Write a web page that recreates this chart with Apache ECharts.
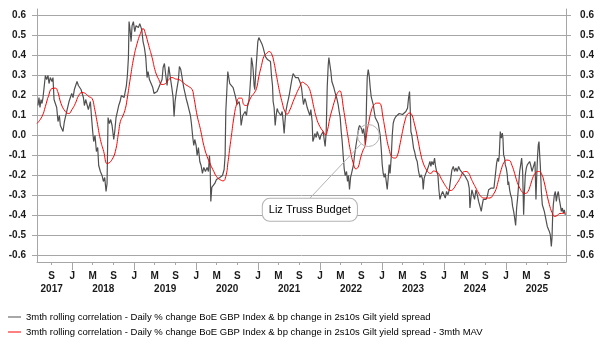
<!DOCTYPE html>
<html>
<head>
<meta charset="utf-8">
<script src="https://cdn.jsdelivr.net/npm/echarts@6/dist/echarts.min.js"></script>
<style>
  html, body { margin: 0; padding: 0; background: #fff; }
  #chart { width: 603px; height: 352px; }
</style>
</head>
<body>
<div id="chart"></div>
<script>
// x values are decimal years
const corrName = '3mth rolling correlation - Daily % change BoE GBP Index & bp change in 2s10s Gilt yield spread';
const mavName = corrName + ' - 3mth MAV';

// 3mth rolling correlation
const corr3m = [
  [2017.446,0.15],[2017.462,0.19],[2017.478,0.14],[2017.495,0.18],[2017.511,0.16],[2017.527,0.19],[2017.548,0.25],[2017.565,0.30],
  [2017.586,0.28],[2017.608,0.30],[2017.624,0.26],[2017.645,0.29],[2017.672,0.27],[2017.688,0.29],[2017.705,0.18],[2017.726,0.16],
  [2017.748,0.14],[2017.769,0.07],[2017.791,0.10],[2017.807,0.05],[2017.828,0.06],[2017.850,0.02],[2017.872,0.07],[2017.893,0.08],
  [2017.909,0.12],[2017.925,0.11],[2017.947,0.17],[2017.969,0.19],[2017.990,0.21],[2018.012,0.19],[2018.033,0.23],[2018.055,0.24],
  [2018.076,0.27],[2018.098,0.25],[2018.119,0.24],[2018.141,0.23],[2018.162,0.22],[2018.179,0.19],[2018.195,0.15],[2018.216,0.18],
  [2018.238,0.17],[2018.259,0.13],[2018.275,0.12],[2018.292,0.17],[2018.308,0.10],[2018.329,0.02],[2018.345,-0.03],[2018.367,0.00],
  [2018.389,-0.08],[2018.410,-0.06],[2018.426,-0.15],[2018.453,-0.18],[2018.480,-0.20],[2018.502,-0.23],[2018.523,-0.21],[2018.545,-0.28],
  [2018.561,-0.24],[2018.577,0.09],[2018.599,0.06],[2018.620,0.08],[2018.642,0.05],[2018.669,-0.02],[2018.685,0.02],[2018.706,0.09],
  [2018.728,0.10],[2018.749,0.15],[2018.771,0.17],[2018.792,0.20],[2018.814,0.21],[2018.836,0.19],[2018.857,0.19],[2018.873,0.25],
  [2018.889,0.30],[2018.906,0.39],[2018.916,0.57],[2018.932,0.53],[2018.949,0.47],[2018.965,0.55],[2018.986,0.57],[2019.008,0.52],
  [2019.029,0.55],[2019.046,0.56],[2019.067,0.54],[2019.089,0.56],[2019.105,0.57],[2019.121,0.53],[2019.142,0.47],[2019.164,0.44],
  [2019.186,0.39],[2019.207,0.29],[2019.223,0.32],[2019.245,0.28],[2019.272,0.26],[2019.299,0.24],[2019.320,0.21],[2019.342,0.20],
  [2019.369,0.22],[2019.396,0.24],[2019.422,0.23],[2019.449,0.28],[2019.466,0.34],[2019.487,0.36],[2019.509,0.30],[2019.530,0.25],
  [2019.557,0.345],[2019.584,0.34],[2019.606,0.24],[2019.627,0.19],[2019.643,0.095],[2019.659,0.17],[2019.681,0.22],[2019.697,0.21],
  [2019.713,0.28],[2019.729,0.345],[2019.751,0.33],[2019.778,0.28],[2019.799,0.24],[2019.821,0.21],[2019.842,0.18],[2019.864,0.155],
  [2019.886,0.145],[2019.907,0.10],[2019.923,0.06],[2019.945,-0.01],[2019.961,-0.05],[2019.977,-0.02],[2019.999,-0.05],[2020.015,-0.10],
  [2020.036,-0.06],[2020.058,-0.13],[2020.079,-0.15],[2020.101,-0.19],[2020.123,-0.16],[2020.149,-0.18],[2020.176,-0.16],[2020.198,-0.18],
  [2020.214,-0.10],[2020.225,-0.15],[2020.236,-0.33],[2020.252,-0.26],[2020.273,-0.26],[2020.300,-0.24],[2020.327,-0.22],[2020.354,-0.23],
  [2020.381,-0.21],[2020.408,-0.22],[2020.424,-0.20],[2020.451,-0.17],[2020.467,-0.10],[2020.478,0.12],[2020.494,0.22],[2020.510,0.32],
  [2020.526,0.29],[2020.542,0.26],[2020.569,0.27],[2020.596,0.24],[2020.612,0.25],[2020.634,0.195],[2020.661,0.155],[2020.677,0.145],
  [2020.693,0.17],[2020.709,0.14],[2020.725,0.05],[2020.736,0.04],[2020.752,0.10],[2020.768,0.09],[2020.790,0.12],[2020.812,0.10],
  [2020.828,0.145],[2020.849,0.17],[2020.865,0.22],[2020.882,0.30],[2020.892,0.39],[2020.908,0.36],[2020.919,0.33],[2020.935,0.25],
  [2020.946,0.23],[2020.962,0.32],[2020.978,0.39],[2020.995,0.47],[2021.011,0.49],[2021.027,0.50],[2021.043,0.48],[2021.065,0.455],
  [2021.081,0.44],[2021.097,0.42],[2021.118,0.395],[2021.135,0.40],[2021.151,0.38],[2021.172,0.39],[2021.199,0.37],[2021.215,0.30],
  [2021.232,0.25],[2021.242,0.17],[2021.258,0.14],[2021.275,0.05],[2021.291,0.10],[2021.307,0.135],[2021.323,0.12],[2021.345,0.12],
  [2021.366,0.10],[2021.388,0.12],[2021.404,0.07],[2021.420,0.01],[2021.431,0.06],[2021.447,0.12],[2021.468,0.155],[2021.490,0.185],
  [2021.506,0.21],[2021.522,0.24],[2021.544,0.28],[2021.565,0.31],[2021.582,0.31],[2021.603,0.29],[2021.619,0.30],[2021.646,0.29],
  [2021.662,0.30],[2021.684,0.26],[2021.700,0.24],[2021.716,0.195],[2021.732,0.155],[2021.754,0.185],[2021.770,0.17],[2021.792,0.14],
  [2021.813,0.12],[2021.835,0.10],[2021.851,0.13],[2021.872,0.07],[2021.883,-0.03],[2021.899,-0.015],[2021.915,0.01],[2021.937,-0.01],
  [2021.953,0.02],[2021.975,0.00],[2021.996,-0.02],[2022.012,0.00],[2022.034,-0.01],[2022.050,0.02],[2022.066,-0.02],[2022.082,-0.055],
  [2022.099,0.02],[2022.115,0.24],[2022.131,0.35],[2022.142,0.39],[2022.158,0.395],[2022.174,0.32],[2022.190,0.27],[2022.206,0.28],
  [2022.222,0.24],[2022.239,0.25],[2022.255,0.20],[2022.271,0.185],[2022.292,0.155],[2022.308,0.12],[2022.325,0.09],[2022.341,0.02],
  [2022.357,-0.03],[2022.373,-0.10],[2022.389,-0.165],[2022.405,-0.20],[2022.427,-0.18],[2022.443,-0.23],[2022.459,-0.20],[2022.475,-0.27],
  [2022.492,-0.21],[2022.508,-0.19],[2022.524,-0.18],[2022.540,-0.145],[2022.556,-0.10],[2022.572,-0.065],[2022.589,-0.03],[2022.605,0.00],
  [2022.621,0.035],[2022.637,0.05],[2022.653,0.06],[2022.669,0.035],[2022.685,0.01],[2022.702,0.035],[2022.718,0.00],[2022.729,-0.045],
  [2022.739,0.00],[2022.750,0.17],[2022.761,0.29],[2022.777,0.33],[2022.793,0.30],[2022.809,0.24],[2022.825,0.195],[2022.842,0.20],
  [2022.858,0.155],[2022.874,0.12],[2022.890,0.09],[2022.906,0.10],[2022.922,0.09],[2022.939,0.06],[2022.955,0.03],[2022.971,0.00],
  [2022.987,-0.065],[2023.003,-0.145],[2023.019,-0.19],[2023.035,-0.21],[2023.052,-0.19],[2023.068,-0.23],[2023.084,-0.27],[2023.100,-0.21],
  [2023.116,-0.145],[2023.130,-0.19],[2023.150,-0.10],[2023.165,0.00],[2023.180,0.06],[2023.197,0.08],[2023.224,0.095],[2023.251,0.10],
  [2023.278,0.11],[2023.304,0.10],[2023.331,0.105],[2023.358,0.10],[2023.385,0.12],[2023.412,0.137],[2023.428,0.187],[2023.444,0.22],
  [2023.455,0.137],[2023.466,0.02],[2023.482,0.00],[2023.493,0.01],[2023.509,-0.063],[2023.525,-0.08],[2023.547,-0.113],[2023.568,-0.13],
  [2023.590,-0.18],[2023.611,-0.21],[2023.633,-0.197],[2023.655,-0.22],[2023.665,-0.27],[2023.681,-0.213],[2023.698,-0.197],[2023.719,-0.19],
  [2023.741,-0.163],[2023.757,-0.147],[2023.773,-0.13],[2023.789,-0.155],[2023.805,-0.13],[2023.827,-0.147],[2023.848,-0.113],[2023.864,-0.155],
  [2023.881,-0.18],[2023.902,-0.197],[2023.918,-0.27],[2023.935,-0.32],[2023.956,-0.297],[2023.978,-0.28],[2023.999,-0.288],[2024.021,-0.313],
  [2024.042,-0.28],[2024.064,-0.297],[2024.085,-0.272],[2024.107,-0.263],[2024.128,-0.172],[2024.150,-0.155],[2024.171,-0.18],[2024.193,-0.163],
  [2024.215,-0.18],[2024.236,-0.155],[2024.258,-0.172],[2024.279,-0.163],[2024.301,-0.188],[2024.322,-0.18],[2024.344,-0.205],[2024.365,-0.213],
  [2024.387,-0.23],[2024.408,-0.263],[2024.419,-0.363],[2024.435,-0.313],[2024.451,-0.272],[2024.473,-0.297],[2024.494,-0.32],[2024.516,-0.272],
  [2024.538,-0.297],[2024.559,-0.33],[2024.581,-0.355],[2024.602,-0.38],[2024.618,-0.347],[2024.635,-0.32],[2024.656,-0.313],[2024.678,-0.32],
  [2024.699,-0.305],[2024.721,-0.272],[2024.742,-0.272],[2024.764,-0.263],[2024.785,-0.272],[2024.807,-0.263],[2024.828,-0.255],[2024.850,-0.138],
  [2024.866,-0.113],[2024.882,-0.13],[2024.893,-0.097],[2024.909,0.02],[2024.925,-0.013],[2024.942,0.012],[2024.952,-0.013],[2024.963,-0.097],
  [2024.979,-0.113],[2024.990,-0.147],[2025.006,-0.163],[2025.022,-0.197],[2025.033,-0.247],[2025.044,-0.23],[2025.060,-0.272],[2025.076,-0.297],
  [2025.092,-0.313],[2025.108,-0.355],[2025.125,-0.38],[2025.141,-0.413],[2025.157,-0.45],[2025.173,-0.363],[2025.189,-0.313],[2025.205,-0.247],
  [2025.222,-0.18],[2025.238,-0.147],[2025.254,-0.113],[2025.270,-0.18],[2025.286,-0.397],[2025.297,-0.297],[2025.313,-0.197],[2025.329,-0.163],
  [2025.345,-0.147],[2025.367,-0.138],[2025.383,-0.13],[2025.399,-0.147],[2025.421,-0.18],[2025.437,-0.163],[2025.453,-0.147],[2025.469,-0.13],
  [2025.485,-0.32],[2025.496,-0.213],[2025.512,-0.097],[2025.523,-0.047],[2025.534,-0.03],[2025.545,-0.097],[2025.555,-0.147],[2025.572,-0.28],
  [2025.588,-0.347],[2025.604,-0.363],[2025.620,-0.38],[2025.636,-0.405],[2025.652,-0.43],[2025.668,-0.455],[2025.685,-0.463],[2025.701,-0.48],
  [2025.717,-0.497],[2025.733,-0.555],[2025.744,-0.513],[2025.755,-0.397],[2025.765,-0.347],[2025.782,-0.297],[2025.798,-0.28],[2025.814,-0.33],
  [2025.830,-0.297],[2025.846,-0.28],[2025.862,-0.32],[2025.878,-0.347],[2025.895,-0.38],[2025.911,-0.363],[2025.927,-0.388],[2025.943,-0.372],
  [2025.959,-0.397]
];

// 3mth moving average of the above
const corr3mMav = [
  [2017.430,0.06],[2017.511,0.095],[2017.565,0.145],[2017.618,0.20],[2017.672,0.235],[2017.726,0.237],[2017.764,0.22],[2017.818,0.16],
  [2017.888,0.12],[2017.942,0.11],[2017.995,0.13],[2018.049,0.16],[2018.103,0.20],[2018.157,0.215],[2018.211,0.21],[2018.265,0.195],
  [2018.319,0.185],[2018.356,0.14],[2018.399,0.07],[2018.453,-0.02],[2018.507,-0.08],[2018.561,-0.14],[2018.588,-0.138],[2018.642,-0.12],
  [2018.695,-0.08],[2018.749,0.02],[2018.776,0.07],[2018.819,0.10],[2018.857,0.135],[2018.884,0.18],[2018.938,0.29],[2018.992,0.39],
  [2019.046,0.46],[2019.099,0.51],[2019.142,0.535],[2019.180,0.51],[2019.234,0.45],[2019.288,0.39],[2019.342,0.32],[2019.396,0.28],
  [2019.449,0.255],[2019.503,0.26],[2019.557,0.28],[2019.611,0.29],[2019.665,0.283],[2019.719,0.28],[2019.772,0.27],[2019.826,0.255],
  [2019.880,0.245],[2019.934,0.23],[2019.961,0.195],[2020.015,0.10],[2020.069,0.03],[2020.123,-0.05],[2020.176,-0.105],[2020.230,-0.145],
  [2020.284,-0.18],[2020.327,-0.205],[2020.381,-0.22],[2020.435,-0.227],[2020.478,-0.205],[2020.515,-0.13],[2020.542,-0.063],[2020.569,0.00],
  [2020.607,0.087],[2020.650,0.155],[2020.693,0.187],[2020.731,0.187],[2020.768,0.155],[2020.812,0.15],[2020.849,0.17],[2020.892,0.195],
  [2020.930,0.21],[2020.973,0.235],[2021.011,0.295],[2021.054,0.35],[2021.092,0.395],[2021.135,0.41],[2021.178,0.42],[2021.215,0.41],
  [2021.253,0.37],[2021.296,0.30],[2021.339,0.23],[2021.388,0.165],[2021.431,0.12],[2021.468,0.107],[2021.512,0.128],[2021.565,0.17],
  [2021.619,0.21],[2021.673,0.245],[2021.716,0.267],[2021.754,0.26],[2021.808,0.245],[2021.851,0.21],[2021.889,0.155],[2021.942,0.087],
  [2021.996,0.045],[2022.050,0.02],[2022.088,0.003],[2022.120,0.028],[2022.158,0.087],[2022.201,0.137],[2022.239,0.178],[2022.276,0.21],
  [2022.319,0.223],[2022.346,0.203],[2022.373,0.145],[2022.411,0.07],[2022.454,-0.013],[2022.492,-0.08],[2022.535,-0.138],[2022.578,-0.167],
  [2022.615,-0.158],[2022.653,-0.113],[2022.696,-0.072],[2022.723,-0.055],[2022.750,0.003],[2022.788,0.07],[2022.831,0.128],[2022.869,0.153],
  [2022.912,0.162],[2022.949,0.162],[2022.982,0.153],[2023.009,0.103],[2023.046,0.037],[2023.084,-0.03],[2023.116,-0.07],[2023.154,-0.105],
  [2023.213,-0.113],[2023.251,-0.097],[2023.288,-0.047],[2023.331,0.02],[2023.374,0.078],[2023.412,0.107],[2023.450,0.112],[2023.482,0.103],
  [2023.520,0.062],[2023.558,0.012],[2023.590,-0.038],[2023.628,-0.097],[2023.665,-0.138],[2023.708,-0.167],[2023.751,-0.185],[2023.789,-0.19],
  [2023.827,-0.178],[2023.870,-0.18],[2023.913,-0.19],[2023.951,-0.213],[2023.988,-0.233],[2024.031,-0.255],[2024.074,-0.272],[2024.112,-0.275],
  [2024.150,-0.268],[2024.193,-0.247],[2024.236,-0.227],[2024.274,-0.205],[2024.311,-0.183],[2024.354,-0.18],[2024.398,-0.188],[2024.435,-0.213],
  [2024.473,-0.238],[2024.516,-0.263],[2024.559,-0.288],[2024.597,-0.305],[2024.651,-0.313],[2024.721,-0.313],[2024.762,-0.31],[2024.796,-0.295],
  [2024.839,-0.27],[2024.882,-0.22],[2024.925,-0.17],[2024.968,-0.135],[2025.012,-0.123],[2025.055,-0.125],[2025.098,-0.15],[2025.141,-0.19],
  [2025.184,-0.235],[2025.227,-0.265],[2025.270,-0.285],[2025.313,-0.29],[2025.356,-0.28],[2025.399,-0.245],[2025.442,-0.205],[2025.485,-0.185],
  [2025.528,-0.18],[2025.572,-0.19],[2025.615,-0.23],[2025.658,-0.29],[2025.701,-0.345],[2025.744,-0.385],[2025.787,-0.405],[2025.830,-0.40],
  [2025.873,-0.39],[2025.916,-0.39],[2025.954,-0.385]
];

const yTicks = [-0.6, -0.5, -0.4, -0.3, -0.2, -0.1, 0, 0.1, 0.2, 0.3, 0.4, 0.5, 0.6];
const yearStarts = [2018, 2019, 2020, 2021, 2022, 2023, 2024, 2025];
const yearLabelAt = [2017.667, 2018.5, 2019.5, 2020.5, 2021.5, 2022.5, 2023.5, 2024.5, 2025.5];
const xMin = 2017.43, xMax = 2025.97;

// Liz Truss annotation: circled point and label box (data coords)
const trussPoint = [2022.78, 0.0];
const trussLineFrom = [2022.656, -0.044];
const trussLabelTop = [2021.835, -0.314];
const trussLabelAt = [2021.835, -0.372];

// Jan / May / Sep ticks
const monthTicks = [];
for (let y = 2017; y <= 2025; y++) {
  [0, 120 / 365, 243 / 365].forEach(function (f) {
    const v = +(y + f).toFixed(3);
    if (v > xMin && v < xMax) monthTicks.push(v);
  });
}

const font = "'Liberation Sans', Arial, sans-serif";
const axisColor = '#a6a6a6';
const grey = '#505050';
const red = '#ff0000';
const tickLabel = { fontSize: 10, fontWeight: 'bold', color: '#1a1a1a', fontFamily: font };

const chart = echarts.init(document.getElementById('chart'), null, { renderer: 'canvas' });

function yAxisDef(pos) {
  return {
    type: 'value', min: -0.633, max: 0.633, position: pos,
    axisLine: { show: true, lineStyle: { color: axisColor, width: 1 } },
    axisTick: { show: true, customValues: yTicks, length: 5, lineStyle: { color: axisColor } },
    axisLabel: Object.assign({
      customValues: yTicks,
      formatter: function (v) { return v.toFixed(1); },
      margin: pos === 'left' ? 11 : 28,
      align: 'right'
    }, tickLabel),
    splitLine: { show: pos === 'left', lineStyle: { color: axisColor, width: 1 } }
  };
}

chart.setOption({
  animation: false,
  backgroundColor: '#fff',
  grid: { left: 37, right: 37, top: 9, bottom: 90, containLabel: false, outerBoundsMode: 'none' },
  legend: {
    orient: 'vertical', left: 8, top: 312, padding: 0,
    itemWidth: 13, itemHeight: 1, itemGap: 5,
    selectedMode: false,
    textStyle: { fontSize: 9.5, color: '#000', fontFamily: font },
    data: [
      { name: corrName, icon: 'rect', itemStyle: { color: grey } },
      { name: mavName, icon: 'rect', itemStyle: { color: red } }
    ]
  },
  xAxis: [
    {
      type: 'value', min: xMin, max: xMax, position: 'bottom',
      axisLine: { show: true, onZero: false, lineStyle: { color: axisColor, width: 1 } },
      axisTick: { show: true, customValues: monthTicks, length: 3, lineStyle: { color: axisColor } },
      axisLabel: Object.assign({
        customValues: monthTicks,
        margin: 9,
        formatter: function (v) {
          const m = Math.round((v - Math.floor(v + 1e-6)) * 12);
          return m < 2 ? 'J' : (m < 6 ? 'M' : 'S');
        }
      }, tickLabel),
      splitLine: { show: false }
    },
    {
      type: 'value', min: xMin, max: xMax, position: 'bottom',
      axisLine: { show: false, onZero: false },
      axisTick: { show: true, customValues: yearStarts, length: 8, lineStyle: { color: axisColor } },
      axisLabel: Object.assign({
        customValues: yearLabelAt,
        margin: 22,
        formatter: function (v) { return String(Math.floor(v + 1e-6)); }
      }, tickLabel),
      splitLine: { show: false }
    }
  ],
  yAxis: [yAxisDef('left'), yAxisDef('right')],
  series: [
    {
      name: corrName, type: 'line', data: corr3m,
      symbol: 'none', color: grey,
      lineStyle: { color: grey, width: 1.2 },
      z: 2,
      markLine: {
        silent: true, symbol: ['none', 'none'],
        label: { show: false },
        lineStyle: { color: '#b3b3b3', width: 1, type: 'solid' },
        data: [[{ coord: trussLineFrom }, { coord: trussLabelTop }]]
      },
      markPoint: {
        silent: true,
        data: [
          {
            coord: trussPoint, symbol: 'circle', symbolSize: 22,
            itemStyle: { color: 'rgba(0,0,0,0)', borderColor: '#b3b3b3', borderWidth: 1 },
            label: { show: false }
          },
          {
            coord: trussLabelAt, symbol: 'rect', symbolSize: 1,
            itemStyle: { color: 'rgba(0,0,0,0)' },
            label: {
              show: true, position: 'inside', formatter: 'Liz Truss Budget',
              fontSize: 11, color: '#000', fontFamily: font,
              backgroundColor: '#fff', borderColor: '#b3b3b3', borderWidth: 1,
              borderRadius: 7, padding: [6, 6, 5, 6]
            }
          }
        ]
      }
    },
    {
      name: mavName, type: 'line', data: corr3mMav,
      symbol: 'none', smooth: true, color: red,
      lineStyle: { color: red, width: 1 },
      z: 3
    }
  ]
});
</script>
</body>
</html>
